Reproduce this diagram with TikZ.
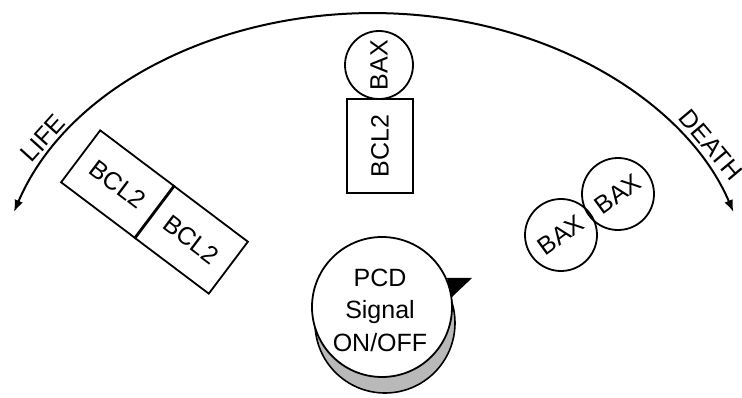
\documentclass[tikz,border=0pt]{standalone}
\usepackage{fontspec}
\setmainfont{Liberation Sans}
\usetikzlibrary{arrows.meta}
\begin{document}
\begin{tikzpicture}[x=1pt,y=1pt,
  lbl/.style={font=\fontsize{25}{32.5}\selectfont, inner sep=0pt},
  box/.style={draw, line width=1.8pt, lbl, minimum width=93pt, minimum height=65pt},
  mol/.style={draw, circle, line width=1.8pt, lbl, minimum size=70pt},
  tip/.style={Latex[length=11pt,width=8pt]}
]
\fill[white] (0,0) rectangle (742,-398);
\useasboundingbox (0,0) rectangle (742,-398);
% life/death arc
\coordinate (lifeend) at (14,-212);
\draw[line width=2pt, {Latex[length=12pt,width=9pt]}-{Latex[length=12pt,width=9pt]}] (lifeend) arc[start angle=162.1, end angle=17.9, x radius=378pt, y radius=287pt] coordinate (deathend);
\node[lbl, rotate=48] (life) at (43,-138) {LIFE};
\node[lbl, rotate=-50] (death) at (711,-145) {DEATH};
% BCL2 dimer
\node[box, rotate=-37] (b1) at (117.8,-184.3) {BCL2};
\node[box, rotate=-37] (b2) at (191.2,-239.7) {BCL2};
% BCL2-BAX heterodimer
\node[box, rotate=90, minimum width=94pt, minimum height=66pt] (bclv) at (380,-146) {BCL2};
\node[mol, rotate=90, minimum size=68pt] (baxv) at (379,-65) {BAX};
% BAX dimer
\node[mol, rotate=36, minimum size=72pt] (bx1) at (561,-235) {BAX};
\node[mol, rotate=36, minimum size=72pt] (bx2) at (618,-194) {BAX};
% PCD dial
\node[circle, draw, fill=gray!55, line width=1.6pt, minimum size=140pt] (dialbase) at (385,-323) {};
\node[circle, draw, fill=white, line width=1.8pt, minimum size=140pt] (dial) at (382,-307) {};
\node[lbl, align=center] (pcd) at (380,-310) {PCD\\Signal\\ON/OFF};
\fill (447,-278) -- (472,-278) -- (452,-297) -- cycle;
\end{tikzpicture}
\end{document}
